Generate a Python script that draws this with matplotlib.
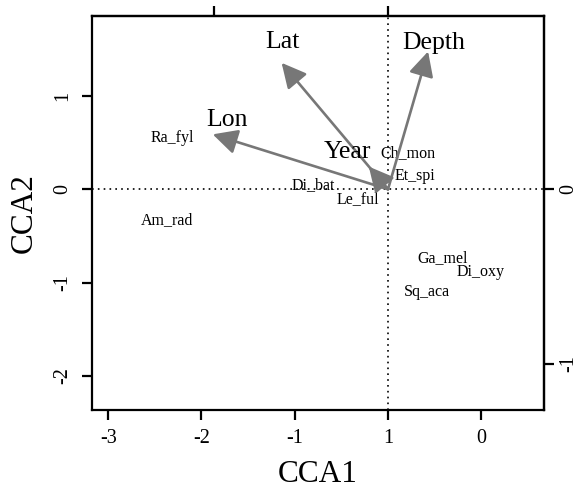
import matplotlib
matplotlib.use("Agg")
import matplotlib.pyplot as plt
from matplotlib.patches import FancyArrowPatch

plt.rcParams['font.family'] = ['Liberation Serif', 'DejaVu Serif']

# Species scores (CCA1, CCA2)
species = ["Ra_fyl", "Ch_mon", "Et_spi", "Di_bat", "Le_ful", "Am_rad", "Ga_mel", "Di_oxy", "Sq_aca"]
sp_cca1 = [-2.31, 0.21, 0.29, -0.80, -0.32, -2.37, 0.59, 0.99, 0.42]
sp_cca2 = [0.55, 0.39, 0.14, 0.04, -0.11, -0.33, -0.74, -0.89, -1.10]

# Environmental arrows (arrow-axis scale)
env = ["Depth", "Lat", "Lon", "Year"]
env_cca1 = [0.23, -0.61, -1.005, -0.11]
env_cca2 = [0.79, 0.725, 0.315, 0.13]
env_lab1 = [0.26, -0.605, -0.925, -0.23]
env_lab2 = [0.84, 0.845, 0.395, 0.215]
arrow_scale = 1.87

x_ticks = [-3, -2, -1, 0, 1]
x_ticklabels = ["-3", "-2", "-1", "1", "0"]
y_ticks = [1, 0, -1, -2]
y_ticklabels = ["1", "0", "-1", "-2"]
top_ticks = [-1, 0]
right_ticks = [0, -1]
right_ticklabels = ["0", "-1"]

fig = plt.figure(figsize=(5.82, 5.0), dpi=100)
ax = fig.add_axes([92/582, 1-410/500, (544-92)/582, (410-16)/500])
ax.set_xlim(-3.174, 1.673)
ax.set_ylim(-2.367, 1.858)

ax.axhline(0, color='black', linestyle=(0, (1, 2.5)), linewidth=1.2, zorder=1)
ax.axvline(0, color='black', linestyle=(0, (1, 2.5)), linewidth=1.2, zorder=1)

for name, x, y in zip(species, sp_cca1, sp_cca2):
    ax.text(x, y, name, ha='center', va='center', fontsize=11.5, color='black', zorder=3)

gray = '#777777'
for name, x, y, lx, ly in zip(env, env_cca1, env_cca2, env_lab1, env_lab2):
    arr = FancyArrowPatch((0, 0), (x*arrow_scale, y*arrow_scale),
                          arrowstyle='-|>,head_length=0.75,head_width=0.38',
                          mutation_scale=20, color=gray, linewidth=1.9,
                          shrinkA=0, shrinkB=0, zorder=4)
    ax.add_patch(arr)
    ax.text(lx*arrow_scale, ly*arrow_scale, name, ha='center', va='center',
            fontsize=18.5, color='black', zorder=5)

ax.set_xticks(x_ticks)
ax.set_xticklabels(x_ticklabels)
ax.set_yticks(y_ticks)
ax.set_yticklabels(y_ticklabels, rotation=90, va='center')
ax.tick_params(axis='both', direction='out', length=7, width=1.6, labelsize=14.5)
ax.tick_params(axis='x', pad=7)
ax.tick_params(axis='y', pad=7)
for s in ax.spines.values():
    s.set_linewidth(1.6)

secx = ax.secondary_xaxis('top', functions=(lambda v: v/arrow_scale, lambda v: v*arrow_scale))
secx.set_xticks(top_ticks)
secx.set_xticklabels([])
secx.tick_params(direction='out', length=7, width=1.6)
secx.spines['top'].set_linewidth(1.6)

secy = ax.secondary_yaxis('right', functions=(lambda v: v/arrow_scale, lambda v: v*arrow_scale))
secy.set_yticks(right_ticks)
secy.set_yticklabels(right_ticklabels, rotation=90, va='center')
secy.tick_params(direction='out', length=7, width=1.6, labelsize=14.5, pad=4)
secy.spines['right'].set_linewidth(1.6)

ax.set_xlabel("CCA1", fontsize=22.5, labelpad=8)
ax.set_ylabel("CCA2", fontsize=22.5, labelpad=11)

fig.savefig("out.png", dpi=100)
